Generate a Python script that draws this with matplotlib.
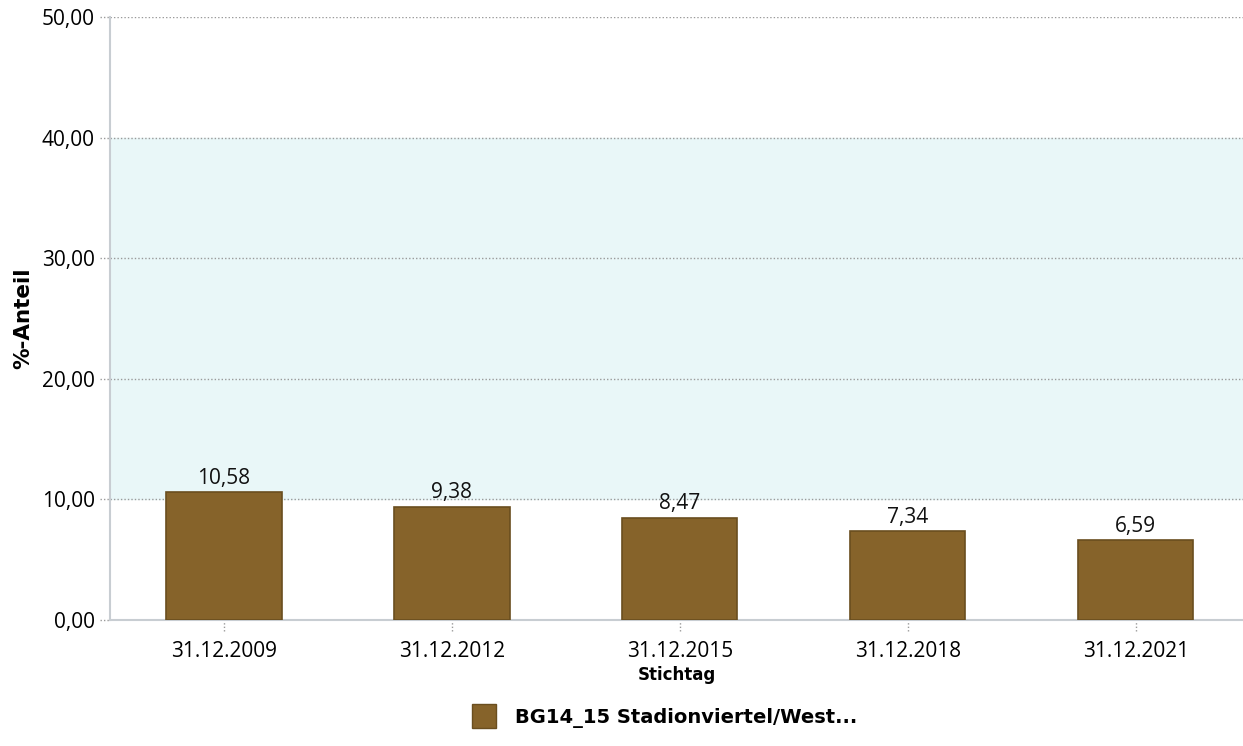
import matplotlib
matplotlib.use("Agg")
import matplotlib.pyplot as plt
from matplotlib.patches import Patch

# data
stichtage = ["31.12.2009", "31.12.2012", "31.12.2015", "31.12.2018", "31.12.2021"]
anteil = [10.58, 9.38, 8.47, 7.34, 6.59]
y_ticks = [0, 10, 20, 30, 40, 50]
band = (10, 40)
series_name = "BG14_15 Stadionviertel/West..."

BAR = "#86632a"
EDGE = "#6a4e1f"
GRID = "#9a9a9a"
DOTS = (0, (1, 1.5))
BOLD_FONT = ["DejaVu Sans"]

plt.rcParams["font.family"] = ["Open Sans", "DejaVu Sans"]

fig = plt.figure(figsize=(12.43, 7.46), dpi=100)
ax = fig.add_axes([0.0885, 0.169, 0.9115, 0.808])

x = list(range(len(stichtage)))
ax.axhspan(band[0], band[1], color="#e9f7f8", zorder=0)
for t in y_ticks:
    ax.axhline(t, color=GRID, lw=1, ls=DOTS, zorder=1)

ax.bar(x, anteil, width=0.505, color=BAR, edgecolor=EDGE, lw=1.2, zorder=3)
for xi, v in zip(x, anteil):
    ax.text(xi, v + 0.3, f"{v:.2f}".replace(".", ","), ha="center", va="bottom",
            fontsize=15, color="#111111", zorder=4)

ax.set_xlim(-0.5, 4.47)
ax.set_ylim(0, 50)
ax.set_yticks(y_ticks)
ax.set_yticklabels([f"{t:.2f}".replace(".", ",") for t in y_ticks], fontsize=15)
ax.set_xticks(x)
ax.set_xticklabels(stichtage, fontsize=15)
ax.tick_params(axis="x", length=0, pad=15)
ax.tick_params(axis="y", length=0, pad=11)

# dotted tick marks like the original
xt = ax.get_xaxis_transform()
ax.vlines(x, -0.018, -0.004, transform=xt, color=GRID, lw=1, ls=DOTS, clip_on=False)
yt = ax.get_yaxis_transform()
ax.hlines(y_ticks, -0.009, 0, transform=yt, color=GRID, lw=1, ls=DOTS, clip_on=False)

for s in ["top", "right"]:
    ax.spines[s].set_visible(False)
for s in ["left", "bottom"]:
    ax.spines[s].set_color("#c8cdd2")
    ax.spines[s].set_linewidth(1.5)

ax.set_ylabel("%-Anteil", fontsize=15.5, fontweight="bold", labelpad=6, family=BOLD_FONT)
ax.set_xlabel("Stichtag", fontsize=12, fontweight="bold", labelpad=3, family=BOLD_FONT)

fig.legend(handles=[Patch(facecolor=BAR, edgecolor=EDGE, label=series_name)],
           loc="center", bbox_to_anchor=(0.535, 0.04), frameon=False,
           prop={"size": 14, "weight": "bold", "family": BOLD_FONT},
           handlelength=1.2, handleheight=1.5, handletextpad=1.0)

fig.savefig("out.png", dpi=100)
